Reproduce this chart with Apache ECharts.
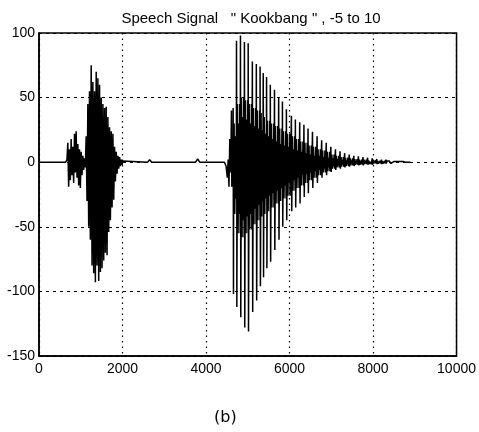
<!DOCTYPE html>
<html><head><meta charset="utf-8">
<script src="https://cdn.jsdelivr.net/npm/echarts@6/dist/echarts.min.js"></script>
<style>html,body{margin:0;padding:0;background:#fff}#c{width:479px;height:432px}</style>
</head><body><div id="c"></div>
<script>
// quiet stretches and small blips (sample index, amplitude)
const quietX = [0, 640, 2600, 2650, 2700, 3750, 3800, 3850, 4440, 4480, 4510, 4530, 4550, 4570, 4590, 8860, 8900];
const quietY = [0, 0, 0, 2, 0, 0, 2.5, 0, 0, -3, -12, 2, -19, 18, -8, 0, 0];

// first syllable: samples every 20 from 650
const burst1Start = 650;
const burst1Step = 20;
const burst1Y = [0, 2, 15, -19, 10, -14, 18, -10, 12, -16, 22, -8, 24, -12, 14, -18, 10, -20, 8, -10,
  5, -6, 3, -4, 20, -30, 45, -50, 55, -60, 75, -80, 62, -86, 55, -93, 70, -80, 65, -92,
  60, -85, 50, -82, 45, -76, 42, -70, 43, -72, 35, -54, 27, -45, 24, -35, 22, -29, 12, -15,
  8, -9, 5, -5, 4, -3, 2, -2, 1, 0];

// second syllable: one entry per pitch period
const burst2X = [4610, 4650, 4730, 4825, 4920, 5010, 5110, 5205, 5295, 5370, 5450, 5540, 5640, 5740, 5830,
  5925, 6045, 6140, 6244, 6345, 6443, 6550, 6660, 6770, 6880, 6990, 7100, 7210, 7320, 7430,
  7540, 7650, 7760, 7870, 7980, 8090, 8200, 8310, 8420, 8530, 8640, 8750];
const burst2Peak = [40, 42, 94, 98, 93, 92, 78, 76, 74, 69, 66, 60, 56, 50, 47,
  41, 36, 33, 31, 29, 26, 23.5, 20, 17, 15, 12, 10, 8.5, 7, 6,
  5, 4.5, 4, 3.5, 3, 2.5, 2, 2, 1.5, 1, 1, 0.5];
const burst2Trough = [-19, -102, -112, -120, -128, -131, -116, -107, -96, -89, -82, -77, -68, -60, -50,
  -45, -38, -35, -32, -27, -24, -20, -16, -12, -10, -7.5, -6, -5, -4, -3.5,
  -3, -2.5, -2.5, -2, -2, -1.5, -1.5, -1, -1, -1, -0.5, -0.5];
const burst2MidHi = [10, 30, 45, 50, 48, 45, 42, 40, 38, 35, 32, 30, 28, 26, 24,
  22, 20, 18, 16, 15, 13, 12, 10, 9, 8, 6, 5, 4, 3.5, 3,
  2.5, 2, 2, 1.5, 1.5, 1, 1, 1, 0.5, 0.5, 0.5, 0];
const burst2MidLo = [-8, -40, -55, -58, -55, -52, -48, -45, -42, -40, -38, -35, -32, -30, -28,
  -26, -22, -20, -18, -16, -14, -12, -10, -8, -7, -5, -4, -3.5, -3, -2.5,
  -2, -2, -1.5, -1.5, -1, -1, -1, -0.5, -0.5, -0.5, 0, 0];
const burst2InnerHi = [5, 20, 30, 35, 33, 30, 28, 26, 25, 22, 20, 18, 16, 14, 13,
  12, 10, 9, 8, 7, 6, 5, 5, 4, 3.5, 3, 2.5, 2, 1.5, 1.5,
  1, 1, 1, 0.5, 0.5, 0.5, 0.5, 0, 0, 0, 0, 0];
const burst2InnerLo = [-5, -28, -40, -45, -42, -40, -36, -33, -30, -28, -26, -24, -22, -20, -18,
  -16, -14, -12, -10, -9, -8, -7, -6, -5, -4, -3, -2.5, -2, -1.5, -1.5,
  -1, -1, -1, -0.5, -0.5, -0.5, -0.5, 0, 0, 0, 0, 0];

const xTicks = [0, 2000, 4000, 6000, 8000, 10000];
const yTicks = [-150, -100, -50, 0, 50, 100];

const pts = [];
quietX.forEach((x, i) => pts.push([x, quietY[i]]));
burst1Y.forEach((v, i) => pts.push([burst1Start + i * burst1Step, v]));
burst2X.forEach((x, i) => {
  pts.push([x, burst2Peak[i]]);
  pts.push([x + 8, burst2Trough[i]]);
  pts.push([x + 24, burst2MidHi[i]]);
  pts.push([x + 38, burst2MidLo[i]]);
  pts.push([x + 52, burst2InnerHi[i]]);
  pts.push([x + 66, burst2InnerLo[i]]);
  pts.push([x + 78, burst2MidHi[i]]);
  pts.push([x + 88, burst2MidLo[i]]);
});
pts.sort((a, b) => a[0] - b[0]);

const chart = echarts.init(document.getElementById('c'), null, {renderer: 'canvas'});
const font = 'Liberation Sans';
chart.setOption({
  animation: false,
  backgroundColor: '#fff',
  title: {
    text: 'Speech Signal   " Kookbang " , -5 to 10',
    left: 246, top: 6, textAlign: 'center',
    textStyle: {fontFamily: font, fontSize: 15, fontWeight: 'normal', color: '#000'}
  },
  graphic: [{
    type: 'text', left: 214, top: 410,
    style: {text: '(b)', font: '16px "DejaVu Sans"', fill: '#000'}
  }],
  grid: {left: 39, right: 22, top: 33, bottom: 76, show: true, borderColor: '#000', borderWidth: 1.5, backgroundColor: 'transparent'},
  xAxis: {
    type: 'value', min: xTicks[0], max: xTicks[xTicks.length - 1], interval: 2000,
    axisLine: {show: true, onZero: false, lineStyle: {color: '#000', width: 1.5}},
    axisTick: {show: false},
    axisLabel: {color: '#000', fontFamily: font, fontSize: 14, margin: 6, formatter: v => String(v)},
    splitLine: {show: true, lineStyle: {color: '#000', type: [1.5, 4], width: 1.2}}
  },
  yAxis: {
    type: 'value', min: yTicks[0], max: yTicks[yTicks.length - 1], interval: 50,
    axisLine: {show: true, lineStyle: {color: '#000', width: 1.5}},
    axisTick: {show: false},
    axisLabel: {color: '#000', fontFamily: font, fontSize: 14, margin: 4, formatter: v => String(v)},
    splitLine: {show: true, lineStyle: {color: '#000', type: [3, 4], width: 1.2}}
  },
  series: [{
    type: 'line', data: pts, showSymbol: false, sampling: null,
    lineStyle: {color: '#000', width: 1.5}, z: 3
  }]
});
</script></body></html>
